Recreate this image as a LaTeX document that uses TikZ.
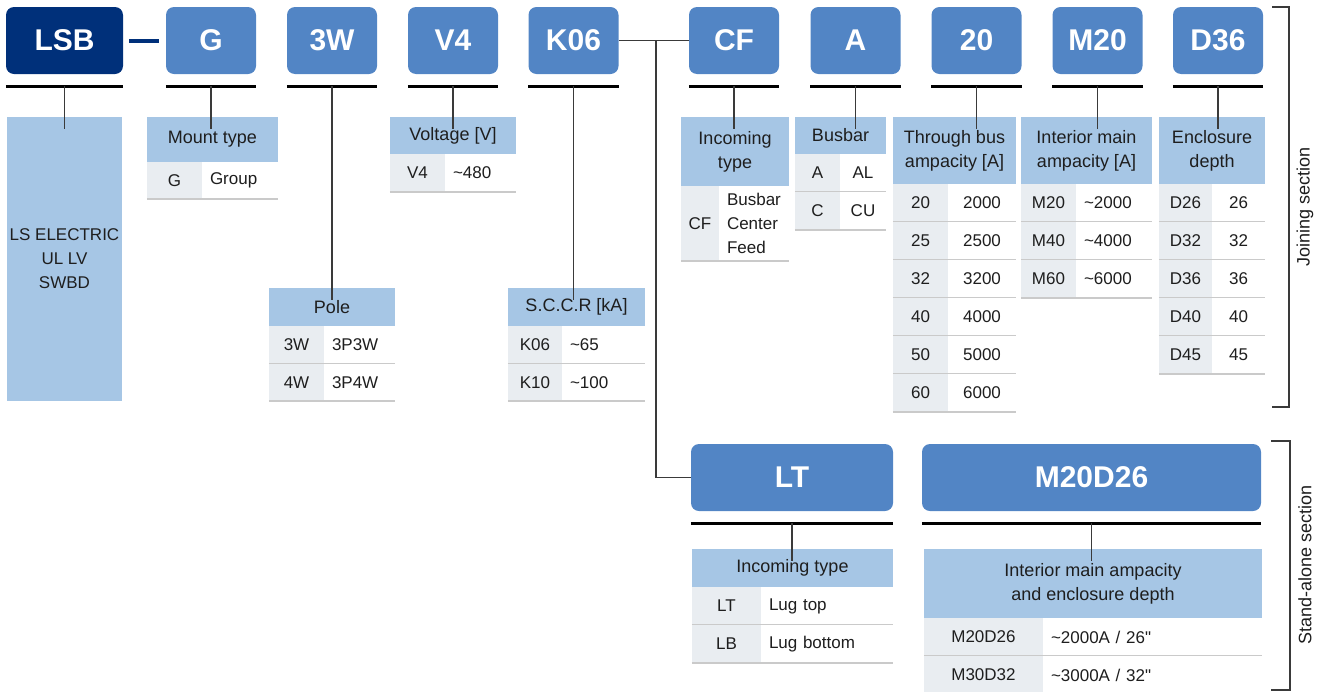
\documentclass[tikz,border=0pt]{standalone}
\usepackage{fontspec}
\newfontfamily\diagfont{Liberation Sans}
\usetikzlibrary{positioning}

\definecolor{navy}{HTML}{00307A}
\definecolor{codeblue}{HTML}{5285C5}
\definecolor{headblue}{HTML}{A6C6E5}
\definecolor{keygrey}{HTML}{E9EDF1}
\definecolor{sepgrey}{HTML}{CACACA}
\definecolor{wiregrey}{HTML}{3A3A3A}
\definecolor{ink}{HTML}{1E1E1E}

\newcommand\codefont{\diagfont\bfseries\fontsize{30}{30}\selectfont}
\newcommand\headfont{\diagfont\fontsize{18}{24}\selectfont}
\newcommand\bodyfont{\diagfont\fontsize{17}{24}\selectfont}
\newcommand\upto{\textasciitilde}

\tikzset{
	codebox/.style={rectangle, rounded corners=8pt, fill=codeblue, text=white, inner sep=0pt, minimum width=90pt, minimum height=67pt, font=\codefont},
	headcell/.style={rectangle, fill=headblue, text=ink, inner sep=0pt, align=center, font=\headfont},
	keycell/.style={rectangle, fill=keygrey, text=ink, inner sep=0pt, font=\bodyfont},
	valcell/.style={rectangle, fill=white, text=ink, inner xsep=8pt, inner ysep=0pt, font=\bodyfont},
	bar/.style={line width=3pt, black},
	wire/.style={line width=1.5pt, wiregrey},
	rowline/.style={line width=1.5pt, sepgrey},
	bracket/.style={line width=1.2pt, wiregrey},
	sidelabel/.style={rotate=90, text=ink, inner sep=0pt, font=\headfont}
}

% name, left, right, top, bottom, text
\newcommand\spechead[6]{%
	\node[headcell, minimum width={#3-#2}, minimum height={#5-#4}] (#1) at ({(#2+#3)/2},{(#4+#5)/2}) {#6};}

% prefix, left, key right, right, top, row height, value align, rows
\newcommand\specrows[8]{%
	\pgfmathsetmacro\valw{#4-#3-16}
	\foreach \k/\v [count=\i] in {#8} {
		\pgfmathsetmacro\yc{#5+(\i-0.5)*#6}
		\node[keycell, minimum width={#3-#2}, minimum height={#6}] (#1k\i) at ({(#2+#3)/2},\yc) {\k};
		\node[valcell, align=#7, text width=\valw pt, minimum height={#6}] (#1v\i) at ({(#3+#4)/2},\yc) {\v};
		\draw[rowline] (#1k\i.south west) -- (#1v\i.south east);
	}}

\begin{document}
\begin{tikzpicture}[x=1pt,y=-1pt]
	\useasboundingbox (0,0) rectangle (1325,691);

	\node[codebox, fill=navy, minimum width=117pt] (lsb) at (64.5,40.5) {LSB};
	\draw[bar] ([yshift=-12pt]lsb.south west) -- ([yshift=-12pt]lsb.south east);
	\foreach \n/\x/\t in {g/211/G, w3/332/3W, v4/453/V4, k06/573.5/K06, cf/734/CF, a/855.5/A, t20/976.5/20, m20/1097.5/M20, d36/1218/D36} {
		\node[codebox] (\n) at (\x,40.5) {\t};
		\draw[bar] ([yshift=-12pt]\n.south west) -- ([yshift=-12pt]\n.south east);
	}
	\draw[navy, line width=4pt] ([xshift=6pt]lsb.east) -- ([xshift=-7pt]g.west);

	\node[headcell, font=\bodyfont, minimum width=115pt, minimum height=284pt] (lsbinfo) at (64.5,259) {LS ELECTRIC\\UL LV\\SWBD};

	\spechead{mount}{147}{278}{117}{162}{Mount type}
	\specrows{mount}{147}{202}{278}{162}{37}{left}{G/Group}

	\spechead{pole}{269}{395}{288}{326}{Pole}
	\specrows{pole}{269}{324}{395}{326}{37.5}{left}{3W/3P3W, 4W/3P4W}

	\spechead{volt}{390}{516}{117}{154}{Voltage [V]}
	\specrows{volt}{390}{445}{516}{154}{38}{left}{V4/\upto480}

	\spechead{sccr}{508}{645}{288}{326}{S.C.C.R [kA]}
	\specrows{sccr}{508}{562}{645}{326}{37.5}{left}{K06/\upto65, K10/\upto100}

	\spechead{incf}{681}{789}{117}{186}{Incoming\\type}
	\specrows{incf}{681}{719}{789}{186}{75}{left}{CF/{Busbar\\Center\\Feed}}

	\spechead{busbar}{795}{886}{117}{154}{Busbar}
	\specrows{busbar}{795}{840}{886}{154}{38}{center}{A/AL, C/CU}

	\spechead{thru}{893}{1016}{117}{184}{Through bus\\ampacity [A]}
	\specrows{thru}{893}{948}{1016}{184}{38}{center}{20/2000, 25/2500, 32/3200, 40/4000, 50/5000, 60/6000}

	\spechead{intm}{1021}{1152}{117}{184}{Interior main\\ampacity [A]}
	\specrows{intm}{1021}{1076}{1152}{184}{38}{left}{M20/\upto2000, M40/\upto4000, M60/\upto6000}

	\spechead{encl}{1159}{1265}{117}{184}{Enclosure\\depth}
	\specrows{encl}{1159}{1212}{1265}{184}{38}{center}{D26/26, D32/32, D36/36, D40/40, D45/45}

	\foreach \n/\t in {lsb/lsbinfo, g/mount, w3/pole, v4/volt, k06/sccr, cf/incf, a/busbar, t20/thru, m20/intm, d36/encl}
		\draw[wire] ([yshift=-12pt]\n.south) -- ([yshift=-12pt]\n.south |- \t.north);

	\node[codebox, minimum width=202pt] (lt) at (792,477.5) {LT};
	\node[codebox, minimum width=339pt] (m20d26) at (1091.5,477.5) {M20D26};
	\draw[bar] ([yshift=-12pt]lt.south west) -- ([yshift=-12pt]lt.south east);
	\draw[bar] ([yshift=-12pt]m20d26.south west) -- ([yshift=-12pt]m20d26.south east);

	\spechead{inlt}{692}{893}{549}{587}{Incoming type}
	\specrows{inlt}{692}{761}{893}{587}{38}{left}{LT/Lug top, LB/Lug bottom}

	\spechead{intd}{924}{1262}{549}{618}{Interior main ampacity\\and enclosure depth}
	\specrows{intd}{924}{1043}{1262}{618}{38}{left}{M20D26/{\upto2000A / 26"}, M30D32/{\upto3000A / 32"}}

	\draw[wire] ([yshift=-12pt]lt.south) -- ([yshift=-12pt]lt.south |- inlt.north);
	\draw[wire] ([yshift=-12pt]m20d26.south) -- ([yshift=-12pt]m20d26.south |- intd.north);

	\draw[wire] (k06.east) -- (cf.west);
	\coordinate (split) at (656,40.5);
	\draw[wire] (split) |- (lt.west);

	\draw[bracket] (1272,7) -- (1289,7) -- (1289,407) -- (1272,407);
	\node[sidelabel] (joining) at (1305,207) {Joining section};
	\draw[bracket] (1271,441) -- (1290,441) -- (1290,690) -- (1271,690);
	\node[sidelabel] (standalone) at (1305,565) {Stand-alone section};
\end{tikzpicture}
\end{document}
